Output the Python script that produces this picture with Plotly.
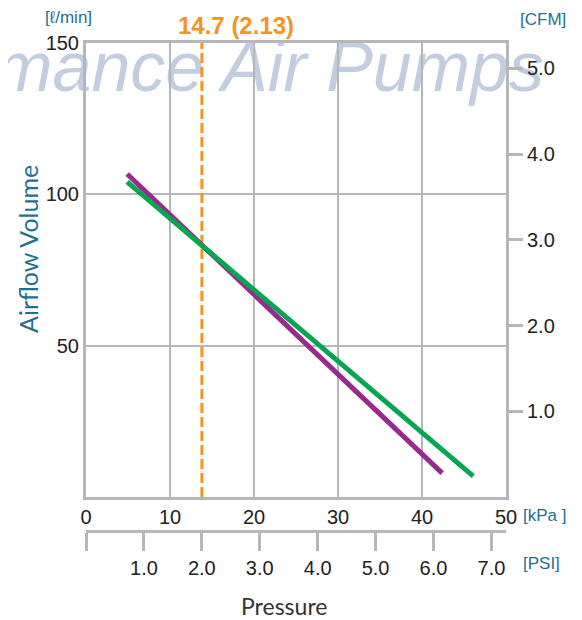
import plotly.graph_objects as go

# ---- data ----
kpa_purple = [4.9, 42.4]
flow_purple = [106.7, 7.9]
kpa_green = [4.9, 46.1]
flow_green = [104.1, 6.9]
marker_kpa = [13.8, 13.8]
marker_flow = [0, 150]
marker_label = "14.7 (2.13)"

kpa_ticks = [0, 10, 20, 30, 40, 50]
flow_ticks = [50, 100, 150]
cfm_ticks = [1, 2, 3, 4, 5]
cfm_labels = ["1.0", "2.0", "3.0", "4.0", "5.0"]
psi_ticks = [0, 1, 2, 3, 4, 5, 6, 7]
psi_labels = ["", "1.0", "2.0", "3.0", "4.0", "5.0", "6.0", "7.0"]

KPA_MAX = 50
FLOW_MAX = 150
LPM_PER_CFM = 28.3168
KPA_PER_PSI = 6.89476

GRAY = "#b5b7ba"
TEAL = "#1e7191"
TICKFONT = dict(family="Liberation Sans, Arial, sans-serif", size=20, color="#222222")

# page offset (default body margin of the html page)
OFF = 8
W, H = 582, 620
# target positions in screenshot pixels
PLOT_L, PLOT_R, PLOT_T, PLOT_B, PSI_Y = 86, 506, 43, 497, 531
ML = PLOT_L - OFF
MR = W - (PLOT_R - OFF)
MT = PLOT_T - OFF
MB = H - (PSI_Y - OFF)
PW = W - ML - MR
PH = H - MT - MB


def px(xs):
    return (xs - OFF - ML) / PW


def py(ys):
    return (H - MB - (ys - OFF)) / PH


fig = go.Figure()
fig.add_trace(go.Scatter(x=marker_kpa, y=marker_flow, mode="lines",
                         line=dict(color="#f7941d", width=3, dash="10px,4px"),
                         showlegend=False, hoverinfo="skip"))
fig.add_trace(go.Scatter(x=kpa_purple, y=flow_purple, mode="lines",
                         line=dict(color="#99298f", width=5), showlegend=False))
fig.add_trace(go.Scatter(x=kpa_green, y=flow_green, mode="lines",
                         line=dict(color="#06a552", width=5), showlegend=False))
# dummy traces to activate secondary axes
fig.add_trace(go.Scatter(x=[None], y=[None], xaxis="x2", yaxis="y", showlegend=False))
fig.add_trace(go.Scatter(x=[None], y=[None], xaxis="x", yaxis="y2", showlegend=False))

fig.update_layout(
    width=W, height=H,
    margin=dict(l=ML, r=MR, t=MT, b=MB, autoexpand=False),
    paper_bgcolor="white", plot_bgcolor="rgba(0,0,0,0)",
    xaxis=dict(range=[0, KPA_MAX], tickvals=kpa_ticks, showgrid=True,
               gridcolor=GRAY, gridwidth=2, showline=True, linecolor=GRAY,
               linewidth=3, mirror=True, ticks="", zeroline=False,
               tickfont=TICKFONT, anchor="y", automargin=False),
    xaxis2=dict(range=[0, KPA_MAX / KPA_PER_PSI], overlaying="x", anchor="free",
                position=0, side="bottom", tickvals=psi_ticks, ticktext=psi_labels,
                ticks="outside", ticklen=18, tickwidth=3, tickcolor=GRAY,
                showline=True, linecolor=GRAY, linewidth=3, showgrid=False,
                zeroline=False, tickfont=TICKFONT, automargin=False),
    yaxis=dict(range=[0, FLOW_MAX], tickvals=flow_ticks, showgrid=True,
               gridcolor=GRAY, gridwidth=2, showline=True, linecolor=GRAY,
               linewidth=3, mirror=True, ticks="", zeroline=False,
               tickfont=TICKFONT, domain=[py(PLOT_B), 1], automargin=False),
    yaxis2=dict(range=[0, FLOW_MAX / LPM_PER_CFM], overlaying="y", side="right",
                tickvals=cfm_ticks, ticktext=cfm_labels, ticks="outside",
                ticklen=16, tickwidth=3, tickcolor=GRAY, showgrid=False,
                showline=False, zeroline=False, tickfont=TICKFONT, automargin=False),
    shapes=[dict(type="rect", xref="paper", yref="paper",
                 x0=px(-300), x1=px(547), y0=py(60) - 0.06, y1=py(60) + 0.06,
                 line=dict(width=0), fillcolor="rgba(0,0,0,0)", layer="below",
                 label=dict(text="mance Air Pumps", textposition="middle right",
                            padding=0,
                            font=dict(family="Liberation Sans, sans-serif",
                                      size=70, color="#c3cde0", style="italic")))],
)

ann_font = dict(family="Liberation Sans, Arial, sans-serif", size=17, color=TEAL)
fig.add_annotation(text="[ℓ/min]", xref="paper", yref="paper", x=px(43), y=py(18),
                   xanchor="left", yanchor="middle", showarrow=False, font=ann_font)
fig.add_annotation(text="[CFM]", xref="paper", yref="paper", x=px(518), y=py(20),
                   xanchor="left", yanchor="middle", showarrow=False, font=ann_font)
fig.add_annotation(text="[kPa ]", xref="paper", yref="paper", x=px(521), y=py(515),
                   xanchor="left", yanchor="middle", showarrow=False, font=ann_font)
fig.add_annotation(text="[PSI]", xref="paper", yref="paper", x=px(521), y=py(563),
                   xanchor="left", yanchor="middle", showarrow=False, font=ann_font)
fig.add_annotation(text="Airflow Volume", xref="paper", yref="paper", x=px(28), y=py(249),
                   xanchor="center", yanchor="middle", textangle=-90, showarrow=False,
                   font=dict(family="Lato, sans-serif", size=25, color=TEAL))
fig.add_annotation(text="Pressure", xref="paper", yref="paper", x=px(284), y=py(606),
                   xanchor="center", yanchor="middle", showarrow=False,
                   font=dict(family="Lato, sans-serif", size=23, color="#333333"))
fig.add_annotation(text="<b>" + marker_label + "</b>", xref="x", yref="paper",
                   x=marker_kpa[0], xshift=34, y=py(25),
                   xanchor="center", yanchor="middle", showarrow=False,
                   font=dict(family="Liberation Sans, Arial, sans-serif", size=24,
                             color="#f7941d"))

fig.write_html("out.html")
